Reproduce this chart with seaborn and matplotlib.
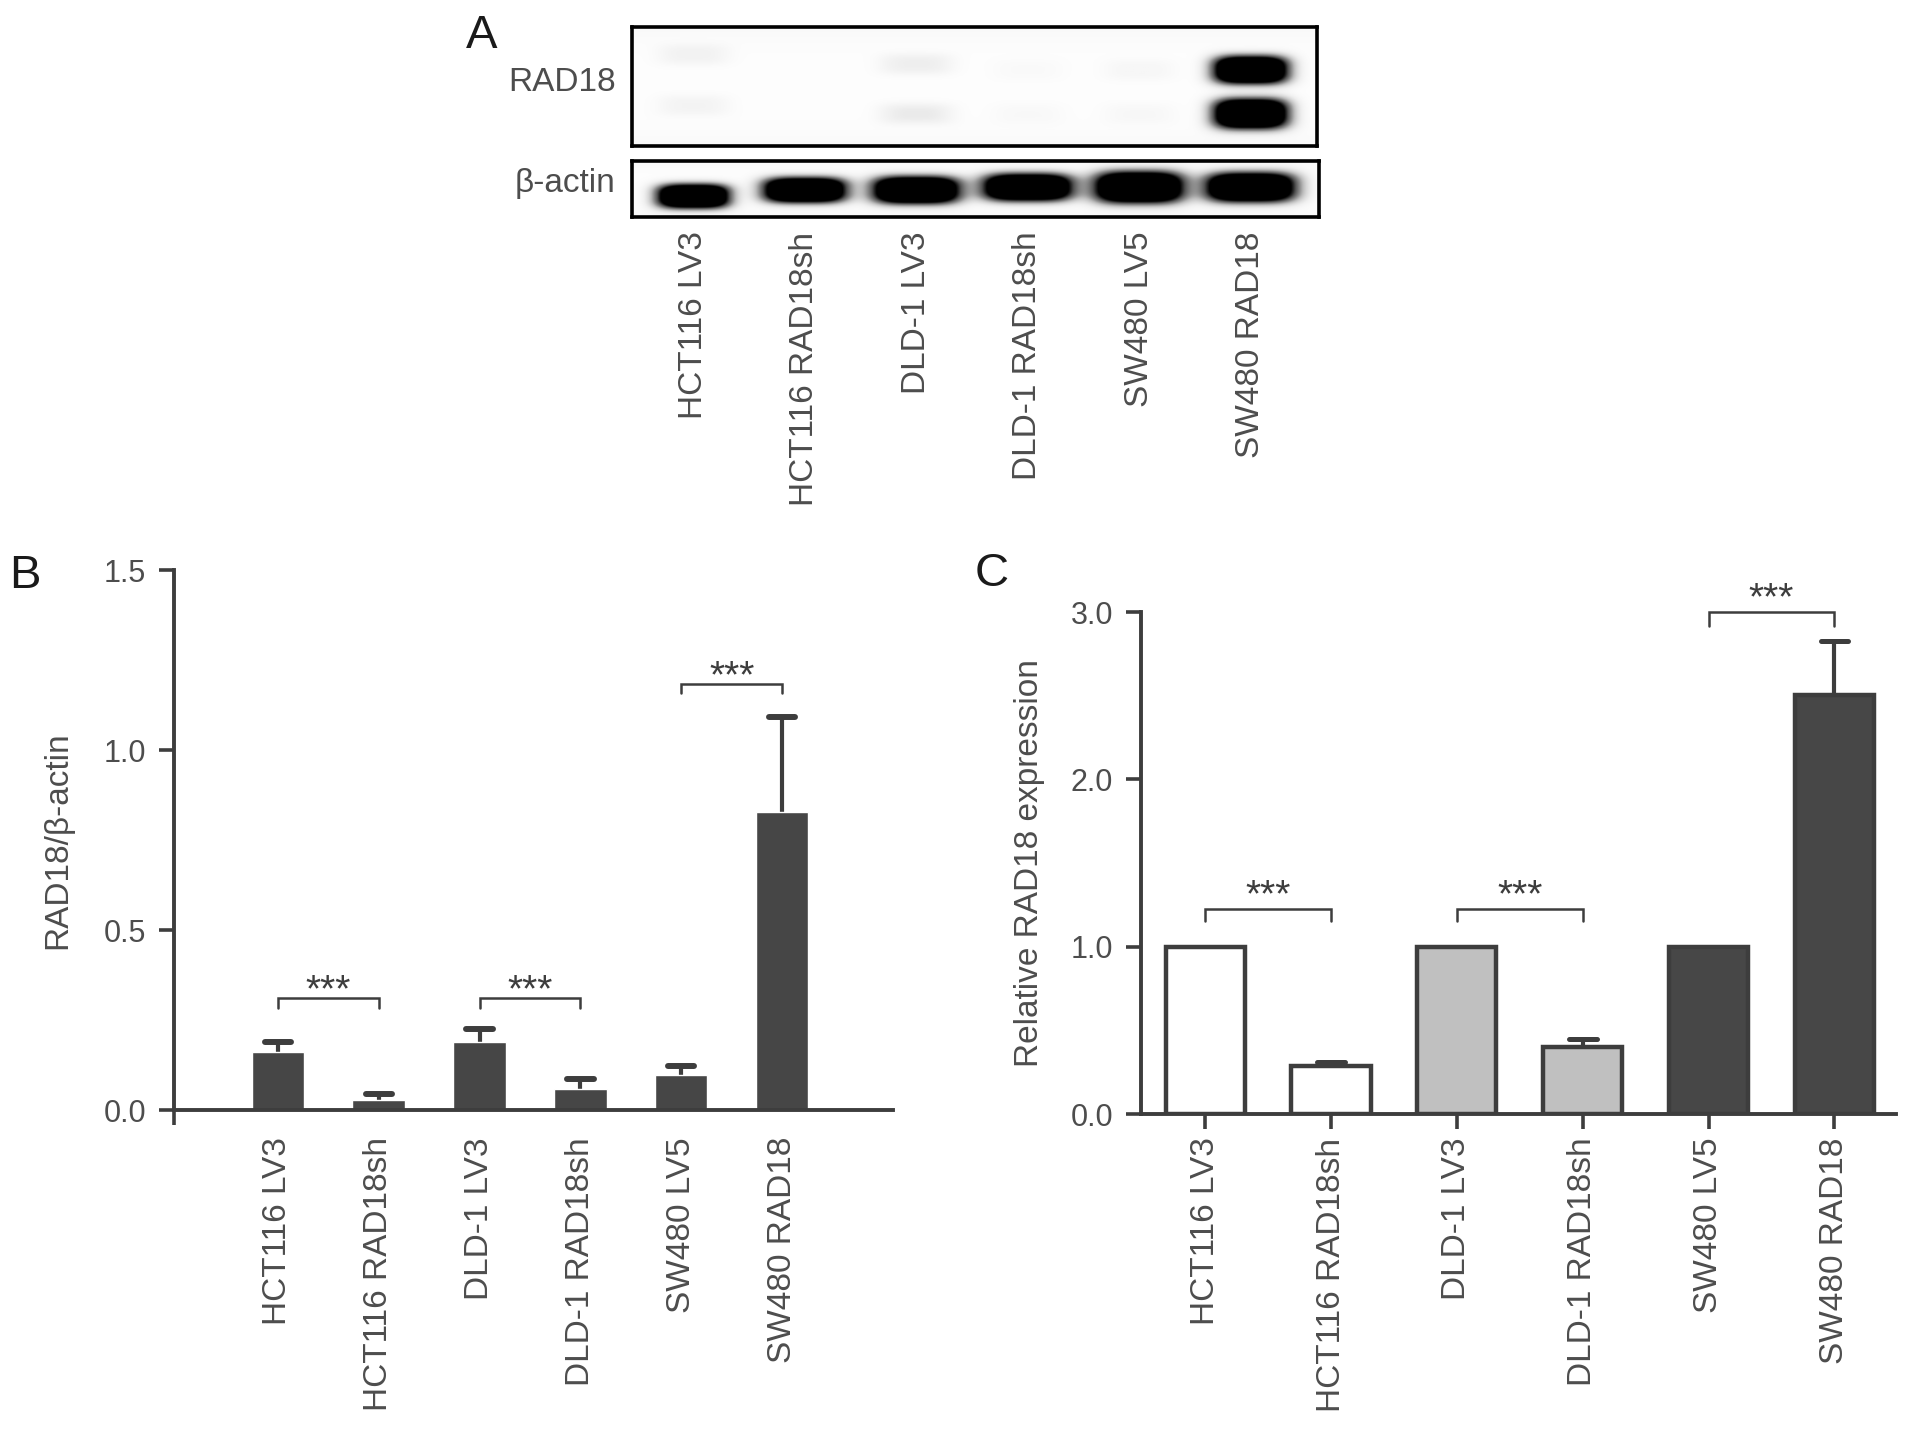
import numpy as np
import pandas as pd
import matplotlib
matplotlib.use('Agg')
import matplotlib.pyplot as plt
import seaborn as sns

# ---- data ----
groups = ['HCT116 LV3', 'HCT116 RAD18sh', 'DLD-1 LV3', 'DLD-1 RAD18sh', 'SW480 LV5', 'SW480 RAD18']

# panel B: RAD18/beta-actin densitometry (mean, SD)
b_mean = [0.162, 0.028, 0.189, 0.059, 0.097, 0.829]
b_sd = [0.027, 0.016, 0.037, 0.027, 0.026, 0.264]
b_bracket_top = [0.311, 0.311, 1.182]
b_bracket_end = [0.282, 0.282, 1.157]
b_star_y = [0.353, 0.353, 1.224]

# panel C: relative RAD18 mRNA expression (mean, SD)
c_mean = [1.0, 0.286, 1.0, 0.400, 1.0, 2.504]
c_sd = [0.0, 0.023, 0.0, 0.050, 0.0, 0.325]
c_bracket_top = [1.228, 1.228, 3.0]
c_bracket_end = [1.155, 1.155, 2.916]
c_star_y = [1.349, 1.349, 3.126]

pairs = [(0, 1), (2, 3), (4, 5)]
sig = ['***', '***', '***']

# panel A: western blot bands (lane, vertical centre as box fraction, half width, half height, density)
rad_lane = [0, 0, 2, 2, 3, 3, 4, 4, 5, 5]
rad_yc = [0.23, 0.66, 0.31, 0.73, 0.36, 0.73, 0.36, 0.73, 0.36, 0.73]
rad_w = [0.32, 0.32, 0.33, 0.33, 0.32, 0.32, 0.32, 0.32, 0.34, 0.34]
rad_h = [0.09, 0.09, 0.09, 0.09, 0.09, 0.09, 0.09, 0.09, 0.12, 0.13]
rad_amp = [0.09, 0.08, 0.12, 0.14, 0.03, 0.035, 0.055, 0.045, 1.9, 1.9]

act_lane = [0, 1, 2, 3, 4, 5]
act_yc = [0.63, 0.52, 0.52, 0.47, 0.47, 0.47]
act_w = [0.33, 0.38, 0.40, 0.41, 0.41, 0.41]
act_h = [0.22, 0.23, 0.25, 0.25, 0.29, 0.27]
act_amp = [1.9, 1.9, 1.9, 1.9, 1.9, 1.9]

dark = '#464646'
line_c = '#3d3d3d'
txt_c = '#4d4d4d'
c_colors = ['#ffffff', '#ffffff', '#c0c0c0', '#c0c0c0', '#474747', '#474747']

sns.set_style('ticks')
plt.rcParams['font.family'] = ['Liberation Sans', 'DejaVu Sans']
plt.rcParams['axes.edgecolor'] = line_c
plt.rcParams['xtick.color'] = line_c
plt.rcParams['ytick.color'] = line_c
plt.rcParams['xtick.labelcolor'] = txt_c
plt.rcParams['ytick.labelcolor'] = txt_c

W, H = 1913, 1432
fig = plt.figure(figsize=(W / 100, H / 100), dpi=100)


def px_axes(x0, y0, x1, y1):
    # pixel box (top-left origin) -> figure axes
    return fig.add_axes([x0 / W, 1 - y1 / H, (x1 - x0) / W, (y1 - y0) / H])


def blot(ax, lanes, yc, w, h, amp, xlim):
    xs = np.linspace(xlim[0], xlim[1], 700)
    ys = np.linspace(0, 1, 160)
    X, Y = np.meshgrid(xs, ys)
    # faint film background, a bit darker towards the edges
    img = 0.015 + 0.04 * (np.abs(Y - 0.5) * 2) ** 4
    for l, y, a, b, k in zip(lanes, yc, w, h, amp):
        img += k * np.exp(-(np.abs((X - l) / a) ** 3.5 + np.abs((Y - y) / b) ** 3))
    img = np.clip(img, 0, 1)
    ax.imshow(img, extent=(xlim[0], xlim[1], 1, 0), aspect='auto', cmap='Greys',
              vmin=0, vmax=1, interpolation='bilinear')
    ax.set_xlim(*xlim)
    ax.set_ylim(1, 0)
    ax.set_yticks([])
    for s in ax.spines.values():
        s.set_visible(True)
        s.set_color('black')
        s.set_linewidth(2.6)


# ---- panel A ----
ax_rad = px_axes(632, 27, 1317, 146)
blot(ax_rad, rad_lane, rad_yc, rad_w, rad_h, rad_amp, (-0.547, 5.59))
ax_rad.set_xticks([])
ax_rad.text(-0.024, 0.53, 'RAD18', transform=ax_rad.transAxes, ha='right', va='center',
            fontsize=24, color=txt_c)

ax_act = px_axes(632, 161, 1319, 217)
blot(ax_act, act_lane, act_yc, act_w, act_h, act_amp, (-0.547, 5.61))
ax_act.set_xticks(range(len(groups)))
ax_act.set_xticklabels(groups, rotation=90, fontsize=24)
ax_act.tick_params(axis='x', length=0, pad=10.5)
ax_act.text(-0.024, 0.595, '\u03b2-actin', transform=ax_act.transAxes, ha='right', va='center',
            fontsize=24, color=txt_c)


def add_errs(ax, mean, sd, cap_hw, lw, cap_lw):
    for i, (m, s) in enumerate(zip(mean, sd)):
        if s <= 0:
            continue
        ax.vlines(i, m, m + s, color=line_c, lw=lw, zorder=1)
        hl = ax.hlines(m + s, i - cap_hw, i + cap_hw, color=line_c, lw=cap_lw, zorder=3)
        hl.set_capstyle('round')


def add_brackets(ax, tops, ends, star_y):
    for (a, b), t, e, sy, s in zip(pairs, tops, ends, star_y, sig):
        ax.plot([a, a, b, b], [e, t, t, e], color=line_c, lw=1.8, clip_on=False,
                solid_joinstyle='miter')
        # asterisks sit high in the glyph box, shift baseline down to centre them on sy
        ax.annotate(s, ((a + b) / 2, sy), xytext=(0, -13), textcoords='offset points',
                    ha='center', va='baseline', fontsize=28, color=line_c,
                    annotation_clip=False)


def style_axis(ax):
    sns.despine(ax=ax)
    for s in ['left', 'bottom']:
        ax.spines[s].set_linewidth(2.8)
    ax.tick_params(axis='y', length=11, width=2.6, pad=9, labelsize=22)
    ax.set_xlabel('')


# ---- panel B ----
ax_b = px_axes(174, 570, 893, 1110)
df_b = pd.DataFrame({'group': groups, 'value': b_mean})
sns.barplot(data=df_b, x='group', y='value', hue='group', palette=[dark] * 6, order=groups,
            width=0.52, errorbar=None, legend=False, saturation=1, ax=ax_b, zorder=2)
add_errs(ax_b, b_mean, b_sd, 0.13, 3.0, 4.3)
ax_b.set_xlim(-1.03, 6.1)
ax_b.set_ylim(0, 1.5)
ax_b.set_yticks([0, 0.5, 1.0, 1.5])
ax_b.set_yticklabels(['0.0', '0.5', '1.0', '1.5'])
style_axis(ax_b)
ax_b.set_xticks(range(len(groups)))
ax_b.set_xticklabels(groups, rotation=90, fontsize=24)
ax_b.tick_params(axis='x', which='major', length=0, pad=19.5)
ax_b.set_xticks([-1.03, 1, 3, 5], minor=True)
ax_b.tick_params(axis='x', which='minor', length=11, width=2.6)
ax_b.set_ylabel('RAD18/\u03b2-actin', fontsize=24, color=txt_c)
ax_b.yaxis.set_label_coords(-0.1405, 0.5)
add_brackets(ax_b, b_bracket_top, b_bracket_end, b_star_y)

# ---- panel C ----
ax_c = px_axes(1141, 612, 1896, 1114)
df_c = pd.DataFrame({'group': groups, 'value': c_mean})
sns.barplot(data=df_c, x='group', y='value', hue='group', palette=c_colors, order=groups,
            width=0.63, errorbar=None, legend=False, saturation=1, ax=ax_c,
            edgecolor=line_c, linewidth=3.2, zorder=2)
add_errs(ax_c, c_mean, c_sd, 0.11, 3.0, 3.6)
ax_c.set_xlim(-0.51, 5.49)
ax_c.set_ylim(0, 3.0)
ax_c.set_yticks([0, 1, 2, 3])
ax_c.set_yticklabels(['0.0', '1.0', '2.0', '3.0'])
style_axis(ax_c)
ax_c.set_xticks(range(len(groups)))
ax_c.set_xticklabels(groups, rotation=90, fontsize=24)
ax_c.tick_params(axis='x', length=11, width=2.6, pad=6)
ax_c.set_ylabel('Relative RAD18 expression', fontsize=24, color=txt_c)
ax_c.yaxis.set_label_coords(-0.127, 0.5)
add_brackets(ax_c, c_bracket_top, c_bracket_end, c_star_y)

# panel letters
fig.text(466 / W, 1 - 48 / H, 'A', fontsize=34, color='#1a1a1a', va='baseline')
fig.text(9 / W, 1 - 588 / H, 'B', fontsize=34, color='#1a1a1a', va='baseline')
fig.text(975 / W, 1 - 586 / H, 'C', fontsize=34, color='#1a1a1a', va='baseline')

fig.savefig('out.png', dpi=100, facecolor='white')
